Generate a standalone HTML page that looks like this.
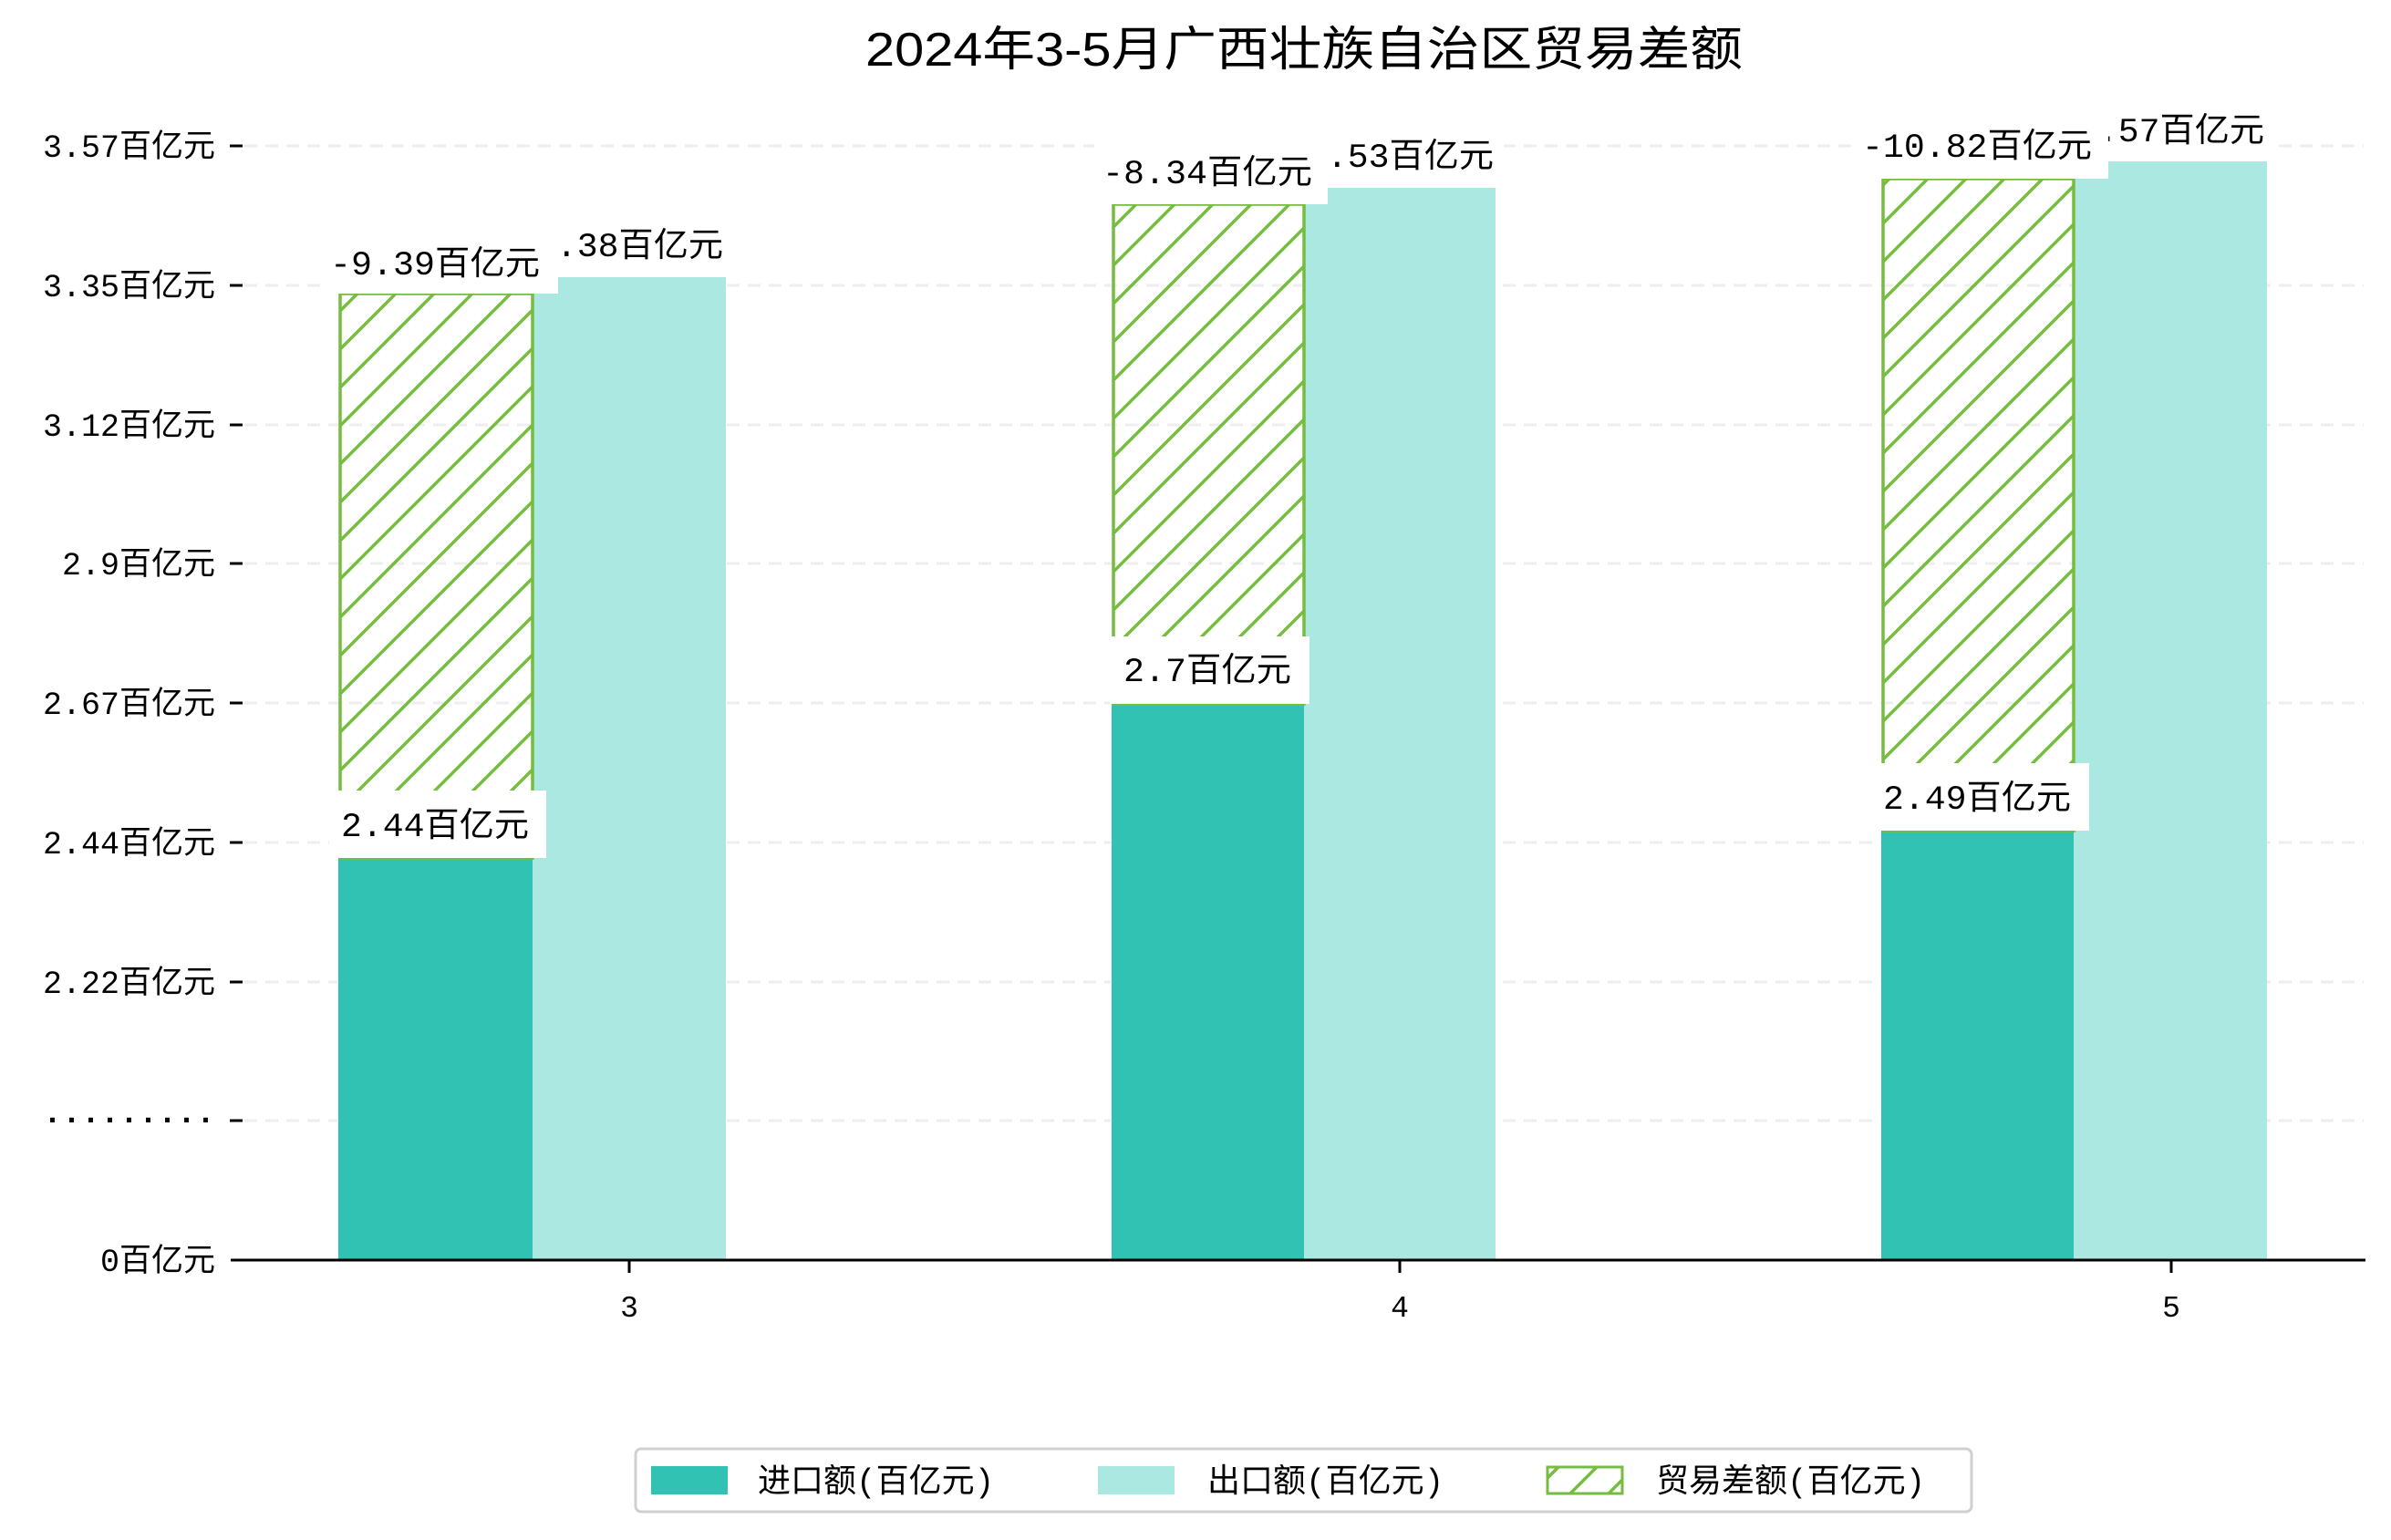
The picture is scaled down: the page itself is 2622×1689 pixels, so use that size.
<!DOCTYPE html>
<html><head><meta charset="utf-8"><style>
html,body{margin:0;padding:0;background:#fff;}
svg{display:block;}
text{font-family:"Liberation Mono","Noto Sans CJK SC",sans-serif;fill:#000;}
</style></head><body>
<svg width="2622" height="1689" viewBox="0 0 2622 1689" xmlns="http://www.w3.org/2000/svg">
<defs>
<pattern id="h" patternUnits="userSpaceOnUse" width="42" height="42">
<path d="M-10,52 L52,-10 M-31,31 L31,-31 M11,73 L73,11" stroke="#76bc3f" stroke-width="3.5"/>
</pattern>
</defs>
<rect width="2622" height="1689" fill="#fff"/>
<text x="1430" y="72" font-size="52" text-anchor="middle" textLength="962" lengthAdjust="spacingAndGlyphs" style="font-family:'Liberation Sans','Noto Sans CJK SC',sans-serif">2024年3-5月广西壮族自治区贸易差额</text>
<g stroke="#eee" stroke-width="3" stroke-dasharray="14,9">
<line x1="268" y1="160" x2="2592" y2="160"/><line x1="268" y1="313" x2="2592" y2="313"/>
<line x1="268" y1="466" x2="2592" y2="466"/><line x1="268" y1="618" x2="2592" y2="618"/>
<line x1="268" y1="771" x2="2592" y2="771"/><line x1="268" y1="924" x2="2592" y2="924"/>
<line x1="268" y1="1077" x2="2592" y2="1077"/><line x1="268" y1="1229" x2="2592" y2="1229"/>
</g>
<g stroke="#000" stroke-width="3">
<line x1="252" y1="160" x2="266" y2="160"/><line x1="252" y1="313" x2="266" y2="313"/>
<line x1="252" y1="466" x2="266" y2="466"/><line x1="252" y1="618" x2="266" y2="618"/>
<line x1="252" y1="771" x2="266" y2="771"/><line x1="252" y1="924" x2="266" y2="924"/>
<line x1="252" y1="1077" x2="266" y2="1077"/><line x1="252" y1="1229" x2="266" y2="1229"/>
</g>
<g font-size="35" text-anchor="end">
<text x="236" y="172">3.57百亿元</text><text x="236" y="325">3.35百亿元</text>
<text x="236" y="478">3.12百亿元</text><text x="236" y="630">2.9百亿元</text>
<text x="236" y="783">2.67百亿元</text><text x="236" y="936">2.44百亿元</text>
<text x="236" y="1089">2.22百亿元</text><text x="236" y="1238" font-weight="bold">·········</text>
<text x="236" y="1394">0百亿元</text>
</g>
<!-- bars -->
<rect x="371" y="941" width="213" height="441" fill="#31c2b3"/>
<rect x="584" y="304" width="212" height="1078" fill="#abe8e1"/>
<rect x="373" y="322" width="211" height="619" fill="url(#h)" stroke="#76bc3f" stroke-width="3.5"/>
<rect x="1219" y="772" width="211" height="610" fill="#31c2b3"/>
<rect x="1430" y="206" width="210" height="1176" fill="#abe8e1"/>
<rect x="1221" y="224" width="209" height="548" fill="url(#h)" stroke="#76bc3f" stroke-width="3.5"/>
<rect x="2063" y="911" width="211" height="471" fill="#31c2b3"/>
<rect x="2274" y="177" width="212" height="1205" fill="#abe8e1"/>
<rect x="2065" y="196" width="209" height="715" fill="url(#h)" stroke="#76bc3f" stroke-width="3.5"/>
<g font-size="37" text-anchor="middle">
<rect x="576" y="238" width="228" height="66" fill="#fff"/>
<text x="690" y="281" textLength="206" lengthAdjust="spacingAndGlyphs">3.38百亿元</text>
<rect x="1421" y="140" width="228" height="66" fill="#fff"/>
<text x="1535" y="183" textLength="206" lengthAdjust="spacingAndGlyphs">3.53百亿元</text>
<rect x="2266" y="112" width="228" height="65" fill="#fff"/>
<text x="2380" y="155" textLength="206" lengthAdjust="spacingAndGlyphs">3.57百亿元</text>
<rect x="354" y="254" width="258" height="68" fill="#fff"/>
<text x="477" y="301" textLength="230" lengthAdjust="spacingAndGlyphs">-9.39百亿元</text>
<rect x="1200" y="154" width="256" height="70" fill="#fff"/>
<text x="1324" y="201" textLength="230" lengthAdjust="spacingAndGlyphs">-8.34百亿元</text>
<rect x="2031" y="125" width="281" height="71" fill="#fff"/>
<text x="2168" y="172" textLength="252" lengthAdjust="spacingAndGlyphs">-10.82百亿元</text>
<rect x="361" y="867" width="238" height="74" fill="#fff"/>
<text x="477" y="917" textLength="206" lengthAdjust="spacingAndGlyphs">2.44百亿元</text>
<rect x="1217" y="698" width="219" height="74" fill="#fff"/>
<text x="1324" y="747" textLength="184" lengthAdjust="spacingAndGlyphs">2.7百亿元</text>
<rect x="2055" y="837" width="236" height="74" fill="#fff"/>
<text x="2168" y="887" textLength="206" lengthAdjust="spacingAndGlyphs">2.49百亿元</text>
</g>
<line x1="253" y1="1382" x2="2594" y2="1382" stroke="#000" stroke-width="3"/>
<g stroke="#000" stroke-width="3">
<line x1="690" y1="1382" x2="690" y2="1396"/><line x1="1535" y1="1382" x2="1535" y2="1396"/><line x1="2381" y1="1382" x2="2381" y2="1396"/>
</g>
<g font-size="33" text-anchor="middle">
<text x="690" y="1444">3</text><text x="1535" y="1444">4</text><text x="2381" y="1444">5</text>
</g>
<rect x="697" y="1589" width="1465" height="69" rx="6" fill="#fff" stroke="#d0d0d0" stroke-width="3"/>
<rect x="714" y="1608" width="84" height="31" fill="#31c2b3"/>
<rect x="1204" y="1608" width="84" height="31" fill="#abe8e1"/>
<rect x="1697" y="1609" width="82" height="29" fill="url(#h)" stroke="#76bc3f" stroke-width="3"/>
<g font-size="36">
<text x="831" y="1636">进口额(百亿元)</text>
<text x="1324" y="1636">出口额(百亿元)</text>
<text x="1816" y="1636">贸易差额(百亿元)</text>
</g>
</svg>
</body></html>
